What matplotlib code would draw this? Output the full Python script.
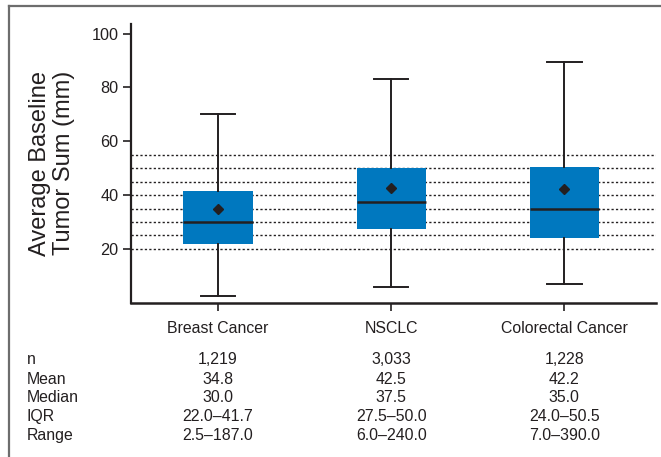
import matplotlib
matplotlib.use("Agg")
import matplotlib.pyplot as plt
from matplotlib.transforms import blended_transform_factory
from matplotlib.lines import Line2D

plt.rcParams['font.family'] = ['Liberation Sans', 'DejaVu Sans']

# Summary statistics per tumour type
categories = ["Breast Cancer", "NSCLC", "Colorectal Cancer"]
n_patients = [1219, 3033, 1228]
means = [34.8, 42.5, 42.2]
medians = [30.0, 37.5, 35.0]
q1 = [22.0, 27.5, 24.0]
q3 = [41.7, 50.0, 50.5]
range_min = [2.5, 6.0, 7.0]
range_max = [187.0, 240.0, 390.0]
whisker_hi = [70.0, 83.0, 89.5]
ref_lines = [20, 25, 30, 35, 40, 45, 50, 55]
y_ticks = [20, 40, 60, 80, 100]

ink = "#231F20"
blue = "#0078BF"

W, H = 661, 457
fig = plt.figure(figsize=(W / 100, H / 100), dpi=100)

# Outer frame (left and top edges)
fig.add_artist(Line2D([8.5 / W, 8.5 / W], [0, 1 - 6 / H], transform=fig.transFigure,
                      color="#6d6d6d", lw=1.6))
fig.add_artist(Line2D([8.5 / W, 1], [1 - 6 / H, 1 - 6 / H], transform=fig.transFigure,
                      color="#6d6d6d", lw=1.6))

left, right = 131 / W, 656 / W
top, bottom = 1 - 24 / H, 1 - 302.75 / H
ax = fig.add_axes([left, bottom, right - left, top - bottom])

positions = [1, 2, 3]
for y in ref_lines:
    ax.axhline(y, color=ink, lw=1.0, linestyle=(0, (1.6, 1.6)), zorder=1)

stats = []
for i, name in enumerate(categories):
    stats.append(dict(label=name, med=medians[i], q1=q1[i], q3=q3[i],
                      whislo=range_min[i], whishi=whisker_hi[i], mean=means[i], fliers=[]))

ax.bxp(stats, positions=positions, widths=0.4, patch_artist=True, showmeans=True,
       showfliers=False,
       boxprops=dict(facecolor=blue, edgecolor="none", linewidth=0),
       medianprops=dict(color=ink, linewidth=1.8),
       whiskerprops=dict(color=ink, linewidth=1.4),
       capprops=dict(color=ink, linewidth=1.4),
       capwidths=0.2,
       meanprops=dict(marker="D", markerfacecolor=ink, markeredgecolor=ink, markersize=5),
       zorder=3)

ax.set_xlim(0.497, 3.53)
ax.set_ylim(0, 103.6)
ax.set_yticks(y_ticks)
ax.set_yticklabels([str(t) for t in y_ticks], fontsize=11.7, color=ink)
ax.set_xticks(positions)
ax.set_xticklabels(categories, fontsize=11.4, color=ink)
ax.tick_params(axis="y", direction="out", length=6, width=1.2, color=ink, pad=3)
ax.tick_params(axis="x", direction="out", length=6, width=1.2, color=ink, pad=7)
for side in ("top", "right"):
    ax.spines[side].set_visible(False)
ax.spines["left"].set_linewidth(1.6)
ax.spines["bottom"].set_linewidth(1.8)
ax.spines["left"].set_color(ink)
ax.spines["bottom"].set_color(ink)

fig.text(52 / W, 1 - 163 / H, "Average Baseline\nTumor Sum (mm)", rotation=90,
         ha="center", va="center", fontsize=17, color=ink, linespacing=1.1)

# Summary table below the chart
row_labels = ["n", "Mean", "Median", "IQR", "Range"]
rows = [
    [f"{v:,}" for v in n_patients],
    [f"{v:.1f}" for v in means],
    [f"{v:.1f}" for v in medians],
    [f"{a:.1f}\u2013{b:.1f}" for a, b in zip(q1, q3)],
    [f"{a:.1f}\u2013{b:.1f}" for a, b in zip(range_min, range_max)],
]
baselines = [364.5, 383.5, 402.5, 421, 440]
tr = blended_transform_factory(ax.transData, fig.transFigure)
for label, vals, yb in zip(row_labels, rows, baselines):
    yf = 1 - yb / H
    fig.text(27 / W, yf, label, ha="left", va="baseline", fontsize=11.4, color=ink)
    for x, v in zip(positions, vals):
        fig.text(x, yf, v, ha="center", va="baseline", fontsize=11.4, color=ink, transform=tr)

fig.savefig("out.png", dpi=100)
